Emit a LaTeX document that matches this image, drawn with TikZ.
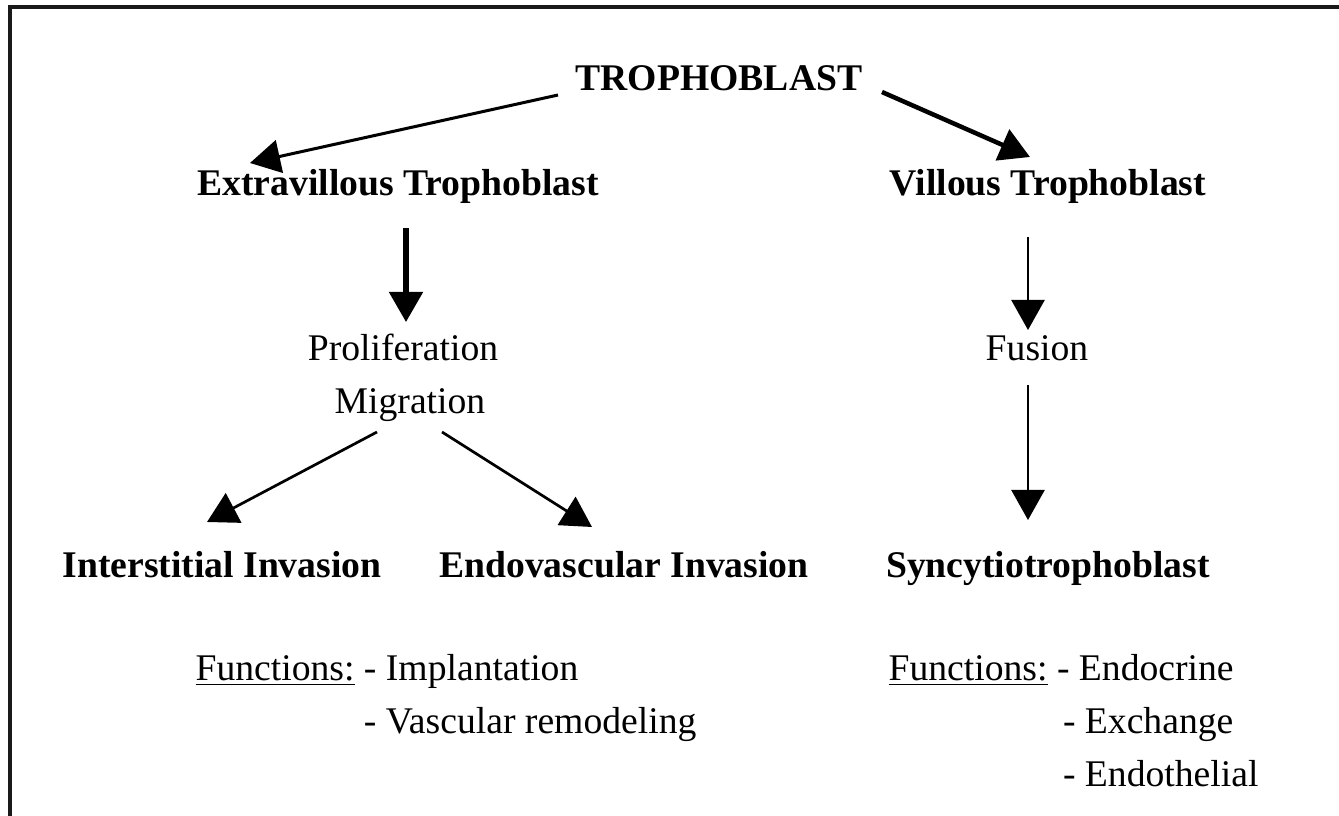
\documentclass[tikz,border=0pt]{standalone}
\usepackage{fontspec}
\setmainfont{Liberation Serif}
\usetikzlibrary{arrows.meta, calc}
\definecolor{frame-line}{HTML}{1A1A1A}
\definecolor{ink}{HTML}{000000}
\tikzset{
  stage/.style={font=\fontsize{12.5}{14}\selectfont\bfseries, text=ink, inner sep=0pt, anchor=base},
  process/.style={font=\fontsize{12.5}{14}\selectfont, text=ink, inner sep=0pt, anchor=base},
  funclist/.style={font=\fontsize{12.5}{17.6}\selectfont, text=ink, inner sep=0pt, anchor=base west},
  flow/.style={draw=ink, -{Triangle[length=10pt, width=11pt]}}
}

\begin{document}
\begin{tikzpicture}[x=0.332pt, y=-0.332pt]

  \useasboundingbox (0,0) rectangle (1339,816);

  % ---- Frame (runs off the right and bottom edges) -------------------------
  \draw[frame-line, line width=1pt] (10,816) -- (10,7) -- (1339,7);

  % ---- Cell types -----------------------------------------------------------
  \node[stage] (tropho) at (719, 90) {TROPHOBLAST};
  \node[stage] (extra)  at (398,195) {Extravillous Trophoblast};
  \node[stage] (villous) at (1048,195) {Villous Trophoblast};
  \node[stage] (inter)  at (222,577) {Interstitial Invasion};
  \node[stage] (endo)   at (624,577) {Endovascular Invasion};
  \node[stage] (syncy)  at (1048,577) {Syncytiotrophoblast};

  % ---- Processes ------------------------------------------------------------
  \node[process] (prolif) at (403,360) {Proliferation};
  \node[process] (migr)   at (410,413) {Migration};
  \node[process] (fusion) at (1037,360) {Fusion};

  % ---- Functions, one list under each branch --------------------------------
  \node[funclist] (funcL) at (195,680) {\begin{tabular}[t]{@{}l@{ }l@{}}
      \underline{Functions:} & - Implantation\\
                             & - Vascular remodeling
    \end{tabular}};
  \node[funclist] (funcR) at (888,680) {\begin{tabular}[t]{@{}l@{ }l@{}}
      \underline{Functions:} & - Endocrine\\
                             & \hspace{2pt}- Exchange\\
                             & \hspace{2pt}- Endothelial
    \end{tabular}};

  % ---- Arrows ---------------------------------------------------------------
  \draw[flow, line width=1pt]   ([shift={(-161,5)}]tropho.base) -- ([shift={(-148,-32)}]extra.base);
  \draw[flow, line width=1.5pt] ([shift={(163,2)}]tropho.base) -- ([shift={(-18,-38)}]villous.base);
  \draw[flow, line width=1.7pt] ([shift={(8,33)}]extra.base) -- ([shift={(3,-38)}]prolif.base);
  \draw[flow, line width=0.8pt] ([shift={(-20,42)}]villous.base) -- ([shift={(-9,-30)}]fusion.base);
  \draw[flow, line width=0.8pt] ([shift={(-9,25)}]fusion.base) -- ([shift={(-20,-57)}]syncy.base);
  \draw[flow, line width=0.9pt] ([shift={(-33,19)}]migr.base) -- ([shift={(-15,-55)}]inter.base);
  \draw[flow, line width=0.9pt] ([shift={(32,19)}]migr.base) -- ([shift={(-32,-50)}]endo.base);

\end{tikzpicture}
\end{document}
